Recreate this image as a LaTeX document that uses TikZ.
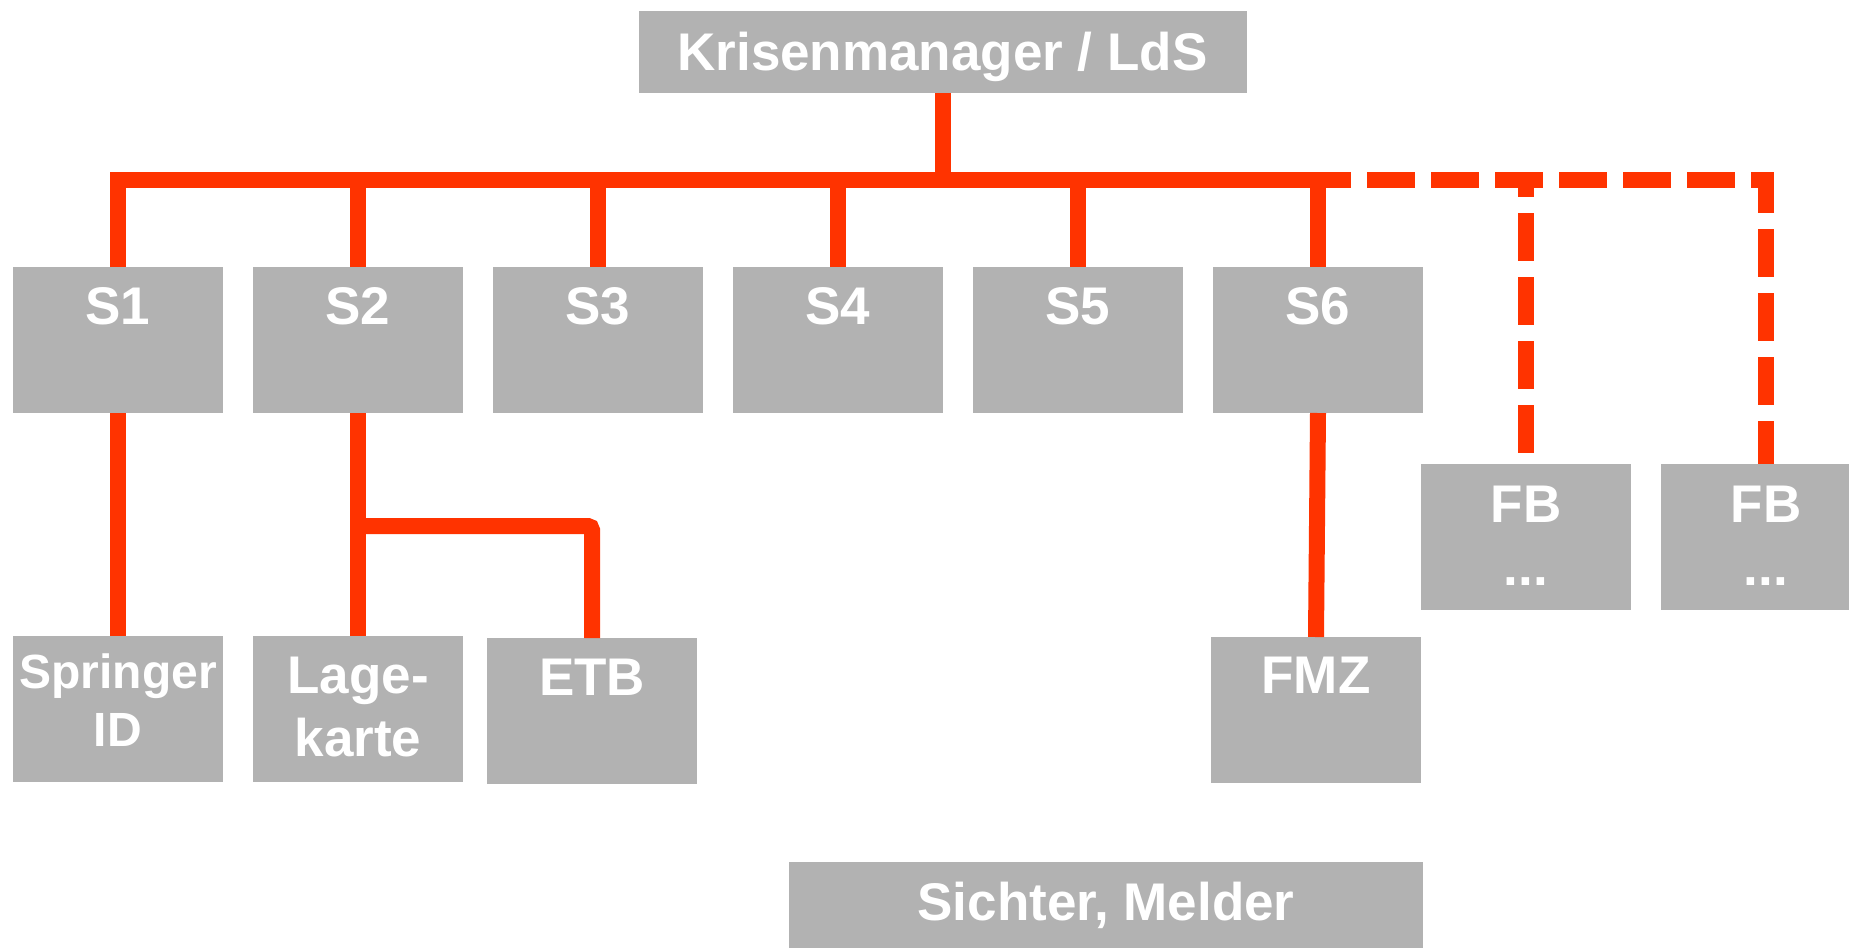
\documentclass[tikz,border=0pt]{standalone}
\usepackage{fontspec}
\setmainfont{Liberation Sans}
\usetikzlibrary{calc}
\definecolor{boxgray}{HTML}{B2B2B2}
\definecolor{linered}{HTML}{FF3300}
\begin{document}
\begin{tikzpicture}[x=0.5pt,y=-0.5pt,
  box/.style={rectangle,fill=boxgray,draw=none,inner sep=0pt,outer sep=0pt,minimum width=105pt,minimum height=73pt},
  lbl/.style={anchor=north,inner sep=0pt,outer sep=0pt,text=white,align=center,font=\fontsize{26.5pt}{31.5pt}\selectfont\bfseries},
  smalllbl/.style={lbl,font=\fontsize{24pt}{29pt}\selectfont\bfseries},
  conn/.style={draw=linered,line width=8pt},
  dsh/.style={conn,dash pattern=on 24pt off 8pt}]
\useasboundingbox (0,0) rectangle (1849,948);
\clip (0,0) rectangle (1849,948);
\fill[white] (0,0) rectangle (1849,948);

% boxes
\node[box,minimum width=304pt,minimum height=41pt] (km) at (942.5,52) {};
\node[box] (s1) at (118,340) {};
\node[box] (s2) at (358,340) {};
\node[box] (s3) at (598,340) {};
\node[box] (s4) at (838,340) {};
\node[box] (s5) at (1078,340) {};
\node[box] (s6) at (1318,340) {};
\node[box] (spr) at (118,709) {};
\node[box] (lage) at (358,709) {};
\node[box] (etb) at (592,711) {};
\node[box] (fmz) at (1316,710) {};
\node[box] (fb1) at (1526,537) {};
\node[box] (fb2) at (1766,537) {};
\node[box,minimum width=317pt,minimum height=43pt] (si) at (1106,905) {};

% labels
\node[lbl] (tkm) at ($(km.north)+(0,21)$) {Krisenmanager / LdS};
\node[lbl] (ts1) at ($(s1.north)+(0,20)$) {S1};
\node[lbl] (ts2) at ($(s2.north)+(0,20)$) {S2};
\node[lbl] (ts3) at ($(s3.north)+(0,20)$) {S3};
\node[lbl] (ts4) at ($(s4.north)+(0,20)$) {S4};
\node[lbl] (ts5) at ($(s5.north)+(0,20)$) {S5};
\node[lbl] (ts6) at ($(s6.north)+(0,20)$) {S6};
\node[smalllbl] (tspr) at ($(spr.north)+(0,18)$) {Springer\\ID};
\node[lbl] (tlage) at ($(lage.north)+(0,21)$) {Lage-\\karte};
\node[lbl] (tetb) at ($(etb.north)+(0,21)$) {ETB};
\node[lbl] (tfmz) at ($(fmz.north)+(0,20)$) {FMZ};
\node[lbl] (tfb1) at ($(fb1.north)+(0,22)$) {FB\\...};
\node[lbl] (tfb2) at ($(fb2.north)+(0,22)$) {FB\\...};
\node[lbl] (tsi) at ($(si.north)+(0,20)$) {Sichter, Melder};

% connectors
\coordinate (bus) at (943,180);
\coordinate (dstart) at (1351,180);
\coordinate (br) at (358,526);
\draw[conn] (km.south) -- (km.south |- bus);
\draw[conn] (s1.north) |- (dstart);
\foreach \n in {s2,s3,s4,s5,s6} \draw[conn] (\n.north) -- (\n.north |- bus);
\draw[dsh,dash phase=24pt] (dstart) -| (fb2.north);
\draw[dsh,dash phase=15.5pt] (fb1.north |- bus) -- (fb1.north);
\draw[conn] (s1.south) -- (spr.north);
\draw[conn] (s2.south) -- (lage.north);
\draw[conn,rounded corners=2pt] (br) -| (etb.north);
\draw[conn] (s6.south) -- (fmz.north);
\end{tikzpicture}
\end{document}
